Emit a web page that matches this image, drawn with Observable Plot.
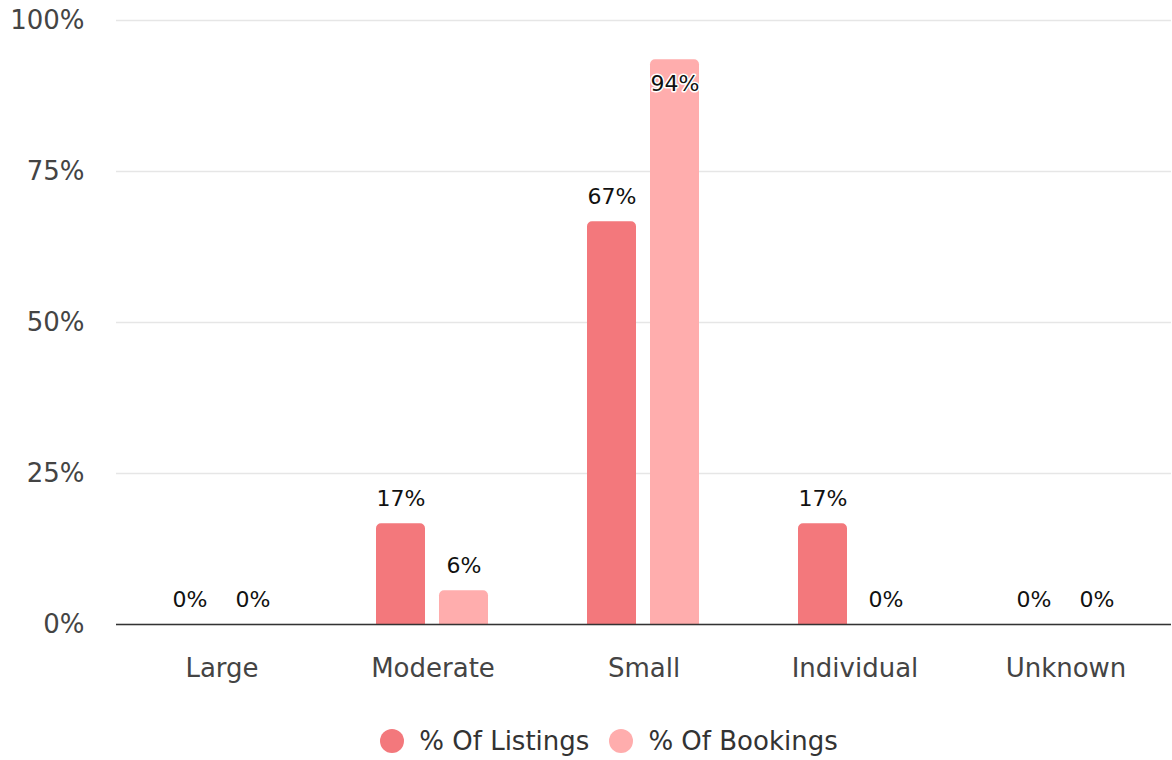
<!DOCTYPE html>
<html>
<head>
<meta charset="utf-8">
<script src="https://cdn.jsdelivr.net/npm/d3@7"></script>
<script src="https://cdn.jsdelivr.net/npm/@observablehq/plot@0.6"></script>
<style>
  body { margin: 0; background: #fff; font-family: "DejaVu Sans", sans-serif; }
  #chart svg { display: block; }
  .legend { display: flex; justify-content: center; align-items: center; margin-top: 26px; padding-left: 46px; font-size: 26px; color: #333; }
  .legend .item { display: flex; align-items: center; margin: 0 10px; }
  .legend .dot { width: 24px; height: 24px; border-radius: 50%; margin-right: 15px; }
</style>
</head>
<body>
<div id="chart"></div>
<script>
const categories = ["Large", "Moderate", "Small", "Individual", "Unknown"];
const seriesNames = ["% Of Listings", "% Of Bookings"];
const listings = [0, 16.67, 66.67, 16.67, 0];
const bookings = [0, 5.6, 93.5, 0, 0];
const colors = ["#f3787c", "#ffadad"];
const yTicks = [0, 25, 50, 75, 100];

const data = [];
categories.forEach((c, i) => {
  data.push({category: c, series: seriesNames[0], value: listings[i]});
  data.push({category: c, series: seriesNames[1], value: bookings[i]});
});

const labelOpts = {
  fx: "category", x: "series", y: "value",
  text: d => Math.round(d.value) + "%",
  lineAnchor: "middle",
  fontSize: 22,
  fill: "#111",
  stroke: "white",
  strokeWidth: 3,
  paintOrder: "stroke"
};

const plot = Plot.plot({
  width: 1172,
  height: 700,
  marginLeft: 115,
  marginRight: 0,
  marginTop: 20,
  marginBottom: 76,
  style: {fontFamily: "DejaVu Sans, sans-serif", fontSize: "26px", color: "#444"},
  fx: {domain: categories, padding: 0, label: null},
  x: {domain: seriesNames, paddingInner: 0.21875, paddingOuter: 0.761, axis: null},
  y: {domain: [0, 100], label: null},
  color: {domain: seriesNames, range: colors},
  marks: [
    Plot.gridY(yTicks, {stroke: "#e6e6e6", strokeOpacity: 1, strokeWidth: 1.5}),
    Plot.axisY(yTicks, {tickSize: 0, tickPadding: 32, tickFormat: d => d + "%", fontSize: 26, fill: "#444", anchor: "left"}),
    Plot.axisFx({anchor: "bottom", tickSize: 0, tickPadding: 34, fontSize: 26, fill: "#444", label: null}),
    Plot.barY(data, {fx: "category", x: "series", y: "value", fill: "series", ry1: 5}),
    Plot.ruleY([0], {stroke: "#333", strokeWidth: 1.5}),
    Plot.text(data, {...labelOpts, filter: d => d.value <= 90, dy: -25}),
    Plot.text(data, {...labelOpts, filter: d => d.value > 90, dy: 24})
  ]
});
document.getElementById("chart").appendChild(plot);

const legend = document.createElement("div");
legend.className = "legend";
seriesNames.forEach((name, i) => {
  const item = document.createElement("div");
  item.className = "item";
  item.innerHTML = `<span class="dot" style="background:${colors[i]}"></span><span>${name}</span>`;
  legend.appendChild(item);
});
document.body.appendChild(legend);
</script>
</body>
</html>
